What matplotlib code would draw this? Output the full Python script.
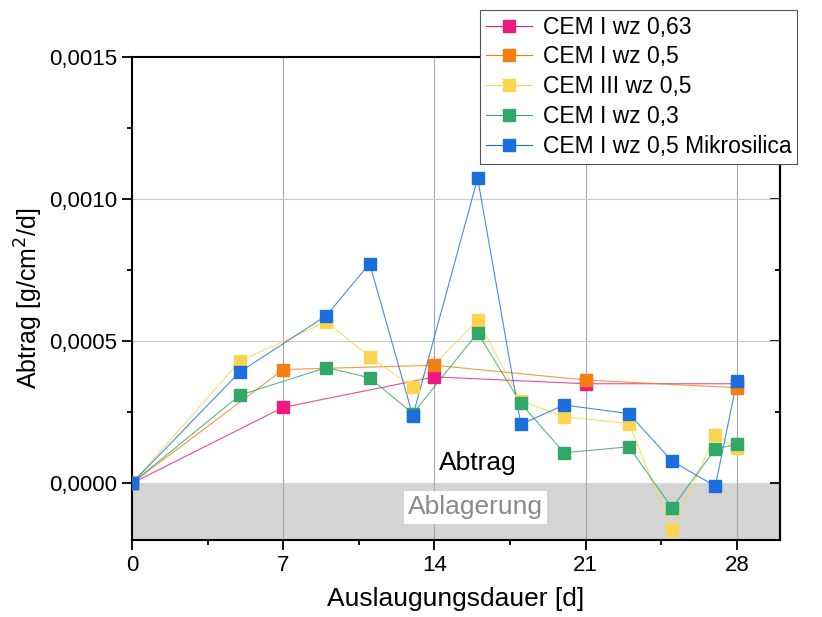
import matplotlib.pyplot as plt
from matplotlib.ticker import FuncFormatter, MultipleLocator, NullFormatter

plt.rcParams['font.family'] = ['Liberation Sans', 'DejaVu Sans']

# data: days and Abtrag [g/cm2/d]
days_a = [0, 7, 14, 21, 28]
cem1_063 = [0, 0.000267, 0.000374, 0.00035, 0.00035]
cem1_05 = [0, 0.0004, 0.000415, 0.000363, 0.000336]

days_b = [0, 5, 9, 11, 13, 16, 18, 20, 23, 25, 27, 28]
cem3_05 = [0, 0.00043, 0.000568, 0.000445, 0.000339, 0.000574, 0.00029,
           0.000234, 0.00021, -0.000165, 0.000169, 0.000124]
cem1_03 = [0, 0.00031, 0.000407, 0.000371, 0.000245, 0.000529, 0.000281,
           0.000107, 0.000128, -0.000087, 0.00012, 0.000137]
cem1_05_ms = [0, 0.000392, 0.00059, 0.000773, 0.000237, 0.001073, 0.000207,
              0.000275, 0.000245, 0.0000775, -0.0000106, 0.000359]

series = [
    ('CEM I wz 0,63', days_a, cem1_063, '#ec1a80'),
    ('CEM I wz 0,5', days_a, cem1_05, '#f77f12'),
    ('CEM III wz 0,5', days_b, cem3_05, '#fdd44f'),
    ('CEM I wz 0,3', days_b, cem1_03, '#31a867'),
    ('CEM I wz 0,5 Mikrosilica', days_b, cem1_05_ms, '#1b6fdc'),
]

fig = plt.figure(figsize=(8.22, 6.17), dpi=100)
ax = fig.add_axes([0.1606, 0.1248, 0.7884, 0.7828])

ax.set_xlim(0, 30)
ax.set_ylim(-0.0002, 0.0015)

# deposition zone
ax.axhspan(-0.0002, 0, color='#d4d4d4', zorder=0, lw=0)

# grid
for xv in [7, 14, 21, 28]:
    ax.axvline(xv, color='#a8a8a8', lw=0.8, zorder=1)
for yv in [0.0005, 0.0010]:
    ax.axhline(yv, color='#c8c8c8', lw=0.8, zorder=1)

ax.text(16.0, 0.00007, 'Abtrag', fontsize=19, color='black', ha='center', va='center', zorder=2)
ax.text(15.9, -0.000085, 'Ablagerung', fontsize=19, color='#8a8a8a', ha='center', va='center',
        zorder=2, bbox=dict(facecolor='white', edgecolor='none', pad=3))

for label, x, y, c in series:
    ax.plot(x, y, color=c, lw=0.8, alpha=0.8, zorder=3)
    ax.plot(x, y, ls='none', marker='s', ms=8, color=c, zorder=4)
    # legend proxy
    ax.plot([], [], color=c, lw=0.8, marker='s', ms=8, markeredgecolor=c, label=label)

ax.xaxis.set_major_locator(MultipleLocator(7))
ax.xaxis.set_minor_locator(MultipleLocator(3.5))
ax.yaxis.set_major_locator(MultipleLocator(0.0005))
ax.yaxis.set_minor_locator(MultipleLocator(0.00025))
ax.yaxis.set_major_formatter(FuncFormatter(lambda v, p: f'{v:.4f}'.replace('.', ',')))

ax.tick_params(axis='both', which='major', direction='out', length=7, width=1.3, labelsize=16)
ax.tick_params(axis='both', which='minor', direction='out', length=3.6, width=1.3)

# inward ticks on the right spine
sec = ax.secondary_yaxis('right')
sec.yaxis.set_major_locator(MultipleLocator(0.0005))
sec.yaxis.set_minor_locator(MultipleLocator(0.00025))
sec.yaxis.set_major_formatter(NullFormatter())
sec.tick_params(which='major', direction='in', length=7, width=1.3)
sec.tick_params(which='minor', direction='in', length=3.6, width=1.3)
sec.spines['right'].set_linewidth(1.5)

for s in ax.spines.values():
    s.set_linewidth(1.5)

ax.set_xlabel('Auslaugungsdauer [d]', fontsize=19, labelpad=8)
ax.set_ylabel('Abtrag [g/cm$^2$/d]', fontsize=18, labelpad=3)

handles, labels = ax.get_legend_handles_labels()
leg = fig.legend(handles, labels, loc='upper left', bbox_to_anchor=(0.584, 0.984),
                 borderaxespad=0, fontsize=16.5, frameon=True, fancybox=False, framealpha=1,
                 edgecolor='#555555', handlelength=2.0, labelspacing=0.3,
                 borderpad=0.25, handletextpad=0.5)
leg.get_frame().set_linewidth(0.8)

fig.savefig('out.png', dpi=100)
